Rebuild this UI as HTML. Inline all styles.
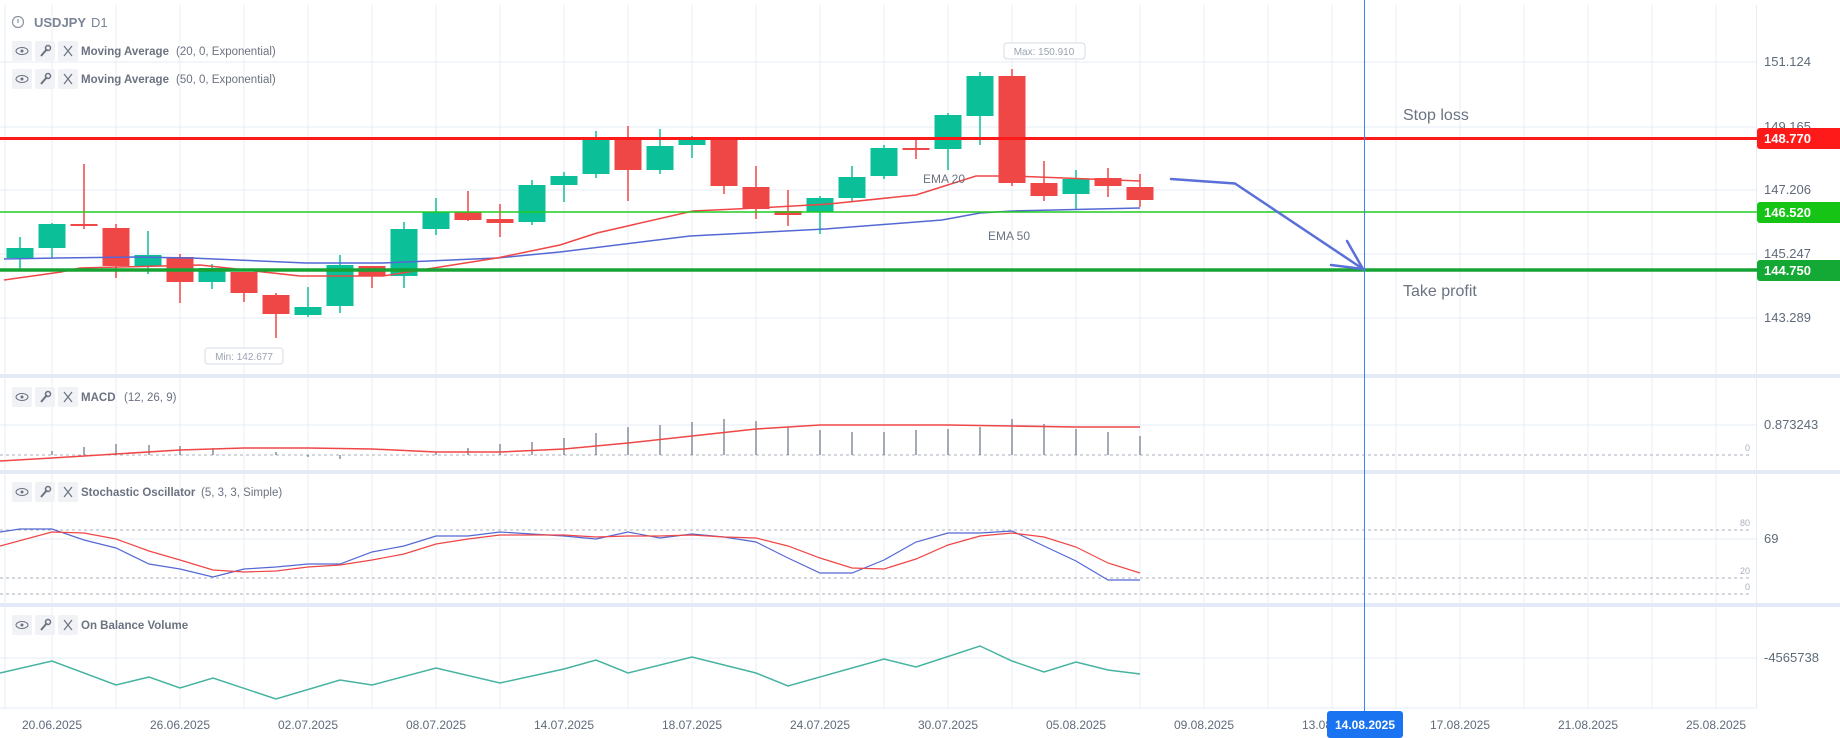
<!DOCTYPE html>
<html><head><meta charset="utf-8"><style>
body{margin:0;background:#fff;}
svg{display:block;font-family:"Liberation Sans",sans-serif;}
</style></head><body>
<svg id="s" width="1840" height="738" xmlns="http://www.w3.org/2000/svg"></svg>
<script>
const s=document.getElementById('s');let h='';
for(let x=52;x<1757;x+=64){h+=`<line x1="${x}" y1="5" x2="${x}" y2="708" stroke="#e8edf6" stroke-width="1"/>`;}
h+=`<line x1="1756.5" y1="5" x2="1756.5" y2="708" stroke="#e6ebf5"/>`;
h+=`<line x1="5" y1="5" x2="5" y2="708" stroke="#e6ebf5"/>`;
[62,127,190,254,318,425,539,658].forEach(y=>h+=`<line x1="0" y1="${y}" x2="1756" y2="${y}" stroke="#e6ebf5"/>`);
[376,472,605].forEach(y=>h+=`<rect x="0" y="${y-2}" width="1840" height="4" fill="#e3e9f7"/>`);
h+=`<line x1="0" y1="708" x2="1756" y2="708" stroke="#e6ebf5"/>`;
[[455,'0'],[530,'80'],[578,'20'],[594,'0']].forEach(([y,t])=>{h+=`<line x1="0" y1="${y}" x2="1752" y2="${y}" stroke="#a9b0bd" stroke-dasharray="3,3"/><text x="1750" y="${y-4}" font-size="9" fill="#a9b0bd" text-anchor="end">${t}</text>`;});
const C=[['g',248,258,237,269],['g',224,248,223,258],['r',224,226,164,229],['r',228,266,224,278],['g',255,266,231,274],['r',257,282,254,303],['g',268,282,264,289],['r',272,293,272,302],['r',295,314,293,338],['g',307,315,287,317],['g',265,306,255,313],['r',266,276,266,288],['g',229,276,222,288],['g',212,229,198,235],['r',212,220,191,221],['r',219,223,204,237],['g',185,222,180,225],['g',176,185,172,202],['g',139,174,131,178],['r',139,170,126,201],['g',146,170,129,174],['g',139,145,136,158],['r',139,186,139,194],['r',187,209,166,219],['r',211,215,190,226],['g',198,212,196,234],['g',177,198,166,202],['g',148,176,145,179],['r',148,150,139,159],['g',115,149,113,170],['g',76,116,72,145],['r',76,183,69,186],['r',183,196,161,201],['g',179,194,170,210],['r',178,186,168,197],['r',187,200,174,207]];
C.forEach((c,i)=>{const x=20+32*i;const col=c[0]=='g'?'#0bbf98':'#ef4646';
h+=`<line x1="${x}" y1="${c[3]}" x2="${x}" y2="${c[4]}" stroke="${col}" stroke-width="1.5"/><rect x="${x-13.5}" y="${c[1]}" width="27" height="${Math.max(2,c[2]-c[1])}" fill="${col}"/>`;});
function pl(pts,col,w){return `<polyline fill="none" stroke="${col}" stroke-width="${w}" points="${pts.map(p=>p.join(',')).join(' ')}"/>`;}
h+=pl([[4,259],[57,258],[134,257],[191,258],[306,263],[383,263],[497,258],[560,252],[690,236],[825,229],[942,220],[980,213],[1013,211],[1140,208]],'#5468d4',1.5);
h+=pl([[4,280],[61,272],[80,268],[200,265],[300,276],[383,276],[497,258],[560,245],[597,233],[693,211],[757,208],[829,204],[916,195],[976,176],[1013,176],[1140,181]],'#ef4646',1.5);
h+=`<text x="923" y="183" font-size="12" fill="#6b7280">EMA 20</text><text x="988" y="240" font-size="12" fill="#6b7280">EMA 50</text>`;
h+=`<rect x="1004" y="43" width="81" height="16" rx="3" fill="#fff" stroke="#d5dbe5"/><text x="1044" y="55" font-size="10" fill="#9aa3b1" text-anchor="middle">Max: 150.910</text>`;
h+=`<rect x="205" y="348" width="78" height="16" rx="3" fill="#fff" stroke="#d5dbe5"/><text x="244" y="360" font-size="10" fill="#9aa3b1" text-anchor="middle">Min: 142.677</text>`;
h+=`<line x1="0" y1="138.5" x2="1757" y2="138.5" stroke="#ff1a1a" stroke-width="3"/>`;
h+=`<line x1="0" y1="212" x2="1757" y2="212" stroke="#22cc22" stroke-width="1.5"/>`;
h+=`<line x1="0" y1="270" x2="1757" y2="270" stroke="#16a334" stroke-width="3.5"/>`;
h+=`<line x1="1364.5" y1="0" x2="1364.5" y2="712" stroke="#3b82f6" stroke-width="1"/>`;
h+=`<polyline fill="none" stroke="#5b6fd8" stroke-width="2.5" stroke-linecap="round" stroke-linejoin="round" points="1171,179 1235,183.5 1363,269"/><polyline fill="none" stroke="#5b6fd8" stroke-width="2.5" stroke-linecap="round" points="1347,241 1363,269 1331,265"/>`;
h+=`<text x="1403" y="120" font-size="16" fill="#6b7280">Stop loss</text><text x="1403" y="296" font-size="16" fill="#6b7280">Take profit</text>`;
[[61,'151.124'],[126,'149.165'],[189,'147.206'],[253,'145.247'],[317,'143.289'],[424,'0.873243'],[538,'69'],[657,'-4565738']].forEach(([y,t])=>h+=`<text x="1764" y="${y+5}" font-size="13" fill="#5f6b7a">${t}</text>`);
[[128,'#ff1a1a','148.770'],[202,'#16c416','146.520'],[260,'#14a834','144.750']].forEach(([y,c,t])=>h+=`<rect x="1757" y="${y}" width="90" height="21" rx="3" fill="${c}"/><text x="1764" y="${y+15}" font-size="13" font-weight="bold" fill="#fff">${t}</text>`);
const M=[[52,451],[84,447],[116,444],[149,445],[180,446],[213,448],[276,452],[308,457],[340,459],[436,452],[468,448],[500,444],[532,442],[564,438],[596,433],[628,427],[660,425],[692,422],[724,419],[756,421],[788,427],[820,430],[852,432],[884,432],[916,430],[948,429],[980,427],[1012,419],[1044,424],[1076,429],[1108,432],[1140,436]];
M.forEach(([x,y])=>h+=`<line x1="${x}" y1="455" x2="${x}" y2="${y}" stroke="#4a5568" stroke-width="1"/>`);
h+=pl([[0,461],[52,458],[116,454],[180,450],[244,448],[308,448],[372,449],[436,452],[500,452],[564,449],[628,443],[692,436],[756,429],[820,425],[884,425],[948,425],[1012,426],[1076,427],[1140,427]],'#ef4646',1.5);
h+=pl([[0,532],[20,529],[52,529],[84,540],[116,548],[149,564],[180,569],[213,577],[244,569],[276,567],[308,564],[340,564],[372,552],[404,546],[436,536],[468,536],[500,532],[532,534],[564,536],[596,539],[628,532],[660,538],[692,534],[724,537],[756,542],[788,558],[820,573],[852,573],[884,560],[916,542],[948,533],[980,533],[1012,531],[1044,546],[1076,561],[1108,580],[1140,580]],'#5468d4',1.2);
h+=pl([[0,546],[52,532],[84,533],[116,539],[149,551],[180,560],[213,570],[244,572],[276,571],[308,567],[340,565],[372,560],[404,554],[436,544],[468,539],[500,535],[532,535],[564,535],[596,537],[628,536],[660,536],[692,535],[724,537],[756,538],[788,546],[820,558],[852,568],[884,569],[916,559],[948,545],[980,536],[1012,533],[1044,537],[1076,547],[1108,563],[1140,573]],'#ef4646',1.2);
h+=pl([[0,673],[52,661],[116,685],[149,677],[180,688],[213,678],[276,699],[340,680],[372,685],[436,668],[500,683],[564,669],[596,660],[628,673],[692,657],[756,673],[788,686],[884,659],[916,667],[980,646],[1012,661],[1044,672],[1076,662],[1108,670],[1140,674]],'#45b3a0',1.5);
const D=['20.06.2025','26.06.2025','02.07.2025','08.07.2025','14.07.2025','18.07.2025','24.07.2025','30.07.2025','05.08.2025','09.08.2025','13.08.2025','17.08.2025','21.08.2025','25.08.2025'];
D.forEach((t,i)=>h+=`<text x="${52+128*i}" y="729" font-size="12" fill="#5f6b7a" text-anchor="middle">${t}</text>`);
h+=`<rect x="1327" y="711" width="76" height="27" rx="3" fill="#1a73f0"/><text x="1365" y="729" font-size="12" font-weight="bold" fill="#fff" text-anchor="middle">14.08.2025</text>`;
h+=`<circle cx="18" cy="22" r="5.5" fill="none" stroke="#8a93a2" stroke-width="1.2"/><line x1="18" y1="19" x2="18" y2="23" stroke="#8a93a2" stroke-width="1.2"/><text x="34" y="27" font-size="13" font-weight="bold" fill="#7a8494">USDJPY</text><text x="91" y="27" font-size="13" fill="#7a8494">D1</text>`;
function leg(y,name,par,px){let r='';[12,35,58].forEach(x=>r+=`<rect x="${x}" y="${y-10}" width="20" height="20" rx="2" fill="#f0f2f5"/>`);
r+=`<ellipse cx="22" cy="${y}" rx="6" ry="3.5" fill="none" stroke="#6b7280" stroke-width="1"/><circle cx="22" cy="${y}" r="1.5" fill="#6b7280"/>`;
r+=`<line x1="41" y1="${y+5}" x2="47" y2="${y-2}" stroke="#6b7280" stroke-width="2"/><circle cx="48" cy="${y-3}" r="2.5" fill="none" stroke="#6b7280" stroke-width="1.5"/>`;
r+=`<path d="M64 ${y-5}L72 ${y+5}M72 ${y-5}L64 ${y+5}" stroke="#6b7280" stroke-width="1.2"/>`;
r+=`<text x="81" y="${y+4}" font-size="11.5" font-weight="bold" fill="#6b7280">${name}</text>`;
if(par)r+=`<text x="${px}" y="${y+4}" font-size="11.5" fill="#6b7280">${par}</text>`;return r;}
h+=leg(51,'Moving Average','(20, 0, Exponential)',176);
h+=leg(79,'Moving Average','(50, 0, Exponential)',176);
h+=leg(397,'MACD','(12, 26, 9)',124);
h+=leg(492,'Stochastic Oscillator','(5, 3, 3, Simple)',201);
h+=leg(625,'On Balance Volume','',0);
s.innerHTML=h;
</script>
</body></html>
